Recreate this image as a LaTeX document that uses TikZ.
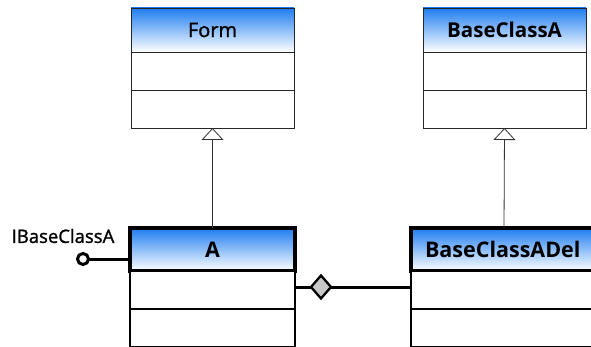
\documentclass[tikz,border=0pt]{standalone}
\usepackage{fontspec}
\setmainfont{Open Sans}
\newfontfamily\medfont[FakeBold=1.3]{Open Sans}
\usetikzlibrary{shapes.geometric,arrows.meta}
\definecolor{headblue}{RGB}{30,125,240}
\definecolor{diamondgray}{RGB}{200,200,200}
\tikzset{
  thinhead/.style={rectangle, draw=black!85, line width=0.9pt, outer sep=0pt, inner sep=0pt,
    top color=headblue, bottom color=white, minimum width=163pt, minimum height=44pt, font=\fontsize{20}{24}\selectfont},
  thincomp/.style={rectangle, draw=black!85, line width=0.9pt, outer sep=0pt, inner sep=0pt,
    fill=white, minimum width=163pt, minimum height=38pt},
  thickhead/.style={rectangle, draw=black, line width=3.5pt, outer sep=0pt, inner sep=0pt,
    top color=headblue, bottom color=white, minimum height=43pt, font=\fontsize{21.5}{25}\selectfont\bfseries},
  thickcomp/.style={rectangle, draw=black, line width=2.8pt, outer sep=0pt, inner sep=0pt,
    fill=white, minimum height=38pt},
  inherit/.style={draw=black!80, line width=0.8pt, -{Triangle[open, width=22pt, length=12pt, line width=0.8pt]}},
  assoc/.style={draw=black, line width=3pt},
  aggr/.style={diamond, draw=black, line width=2.3pt, fill=diamondgray, inner sep=0pt, outer sep=0pt, minimum width=20pt, minimum height=23pt},
  lolli/.style={circle, draw=black, line width=3pt, fill=white, inner sep=0pt, outer sep=0pt, minimum size=11pt},
  ilabel/.style={font=\medfont\fontsize{18.5}{22}\selectfont, inner sep=0pt}
}
\begin{document}
\begin{tikzpicture}[x=1pt,y=-1pt]
\useasboundingbox (0,0) rectangle (591,347);
\clip (0,0) rectangle (591,347);
% Form
\node[thinhead, anchor=north west, font=\medfont\fontsize{20}{24}\selectfont] (form) at (131,8) {Form};
\node[thincomp, anchor=north west] (form1) at (form.south west) {};
\node[thincomp, anchor=north west] (form2) at (form1.south west) {};
% BaseClassA
\node[thinhead, anchor=north west, font=\fontsize{20.5}{24}\selectfont\bfseries] (base) at (423,8) {BaseClassA};
\node[thincomp, anchor=north west] (base1) at (base.south west) {};
\node[thincomp, anchor=north west] (base2) at (base1.south west) {};
% A
\node[thickhead, anchor=north west, minimum width=165pt] (a) at (130,228) {A};
\node[thickcomp, anchor=north west, minimum width=165pt] (a1) at (a.south west) {};
\node[thickcomp, anchor=north west, minimum width=165pt] (a2) at (a1.south west) {};
% BaseClassADel
\node[thickhead, anchor=north west, minimum width=186pt, text width=158pt, align=left] (del) at (411,228) {BaseClassADel};
\node[thickcomp, anchor=north west, minimum width=186pt] (del1) at (del.south west) {};
\node[thickcomp, anchor=north west, minimum width=186pt] (del2) at (del1.south west) {};
% inheritance
\draw[inherit] (a.north) -- (form2.south);
\draw[inherit] (del.north) -- (base2.south);
% aggregation
\node[aggr] (dia) at (321,287) {};
\coordinate (aR) at (295,287);
\coordinate (dL) at (411,287);
\draw[assoc] (aR) -- (dia.west);
\draw[assoc] (dia.east) -- (dL);
% lollipop
\node[lolli] (ifc) at (83,259) {};
\coordinate (aL) at (130,259);
\draw[assoc] (ifc.east) -- (aL);
\node[ilabel] (ilab) at (63,236) {IBaseClassA};
\end{tikzpicture}
\end{document}
